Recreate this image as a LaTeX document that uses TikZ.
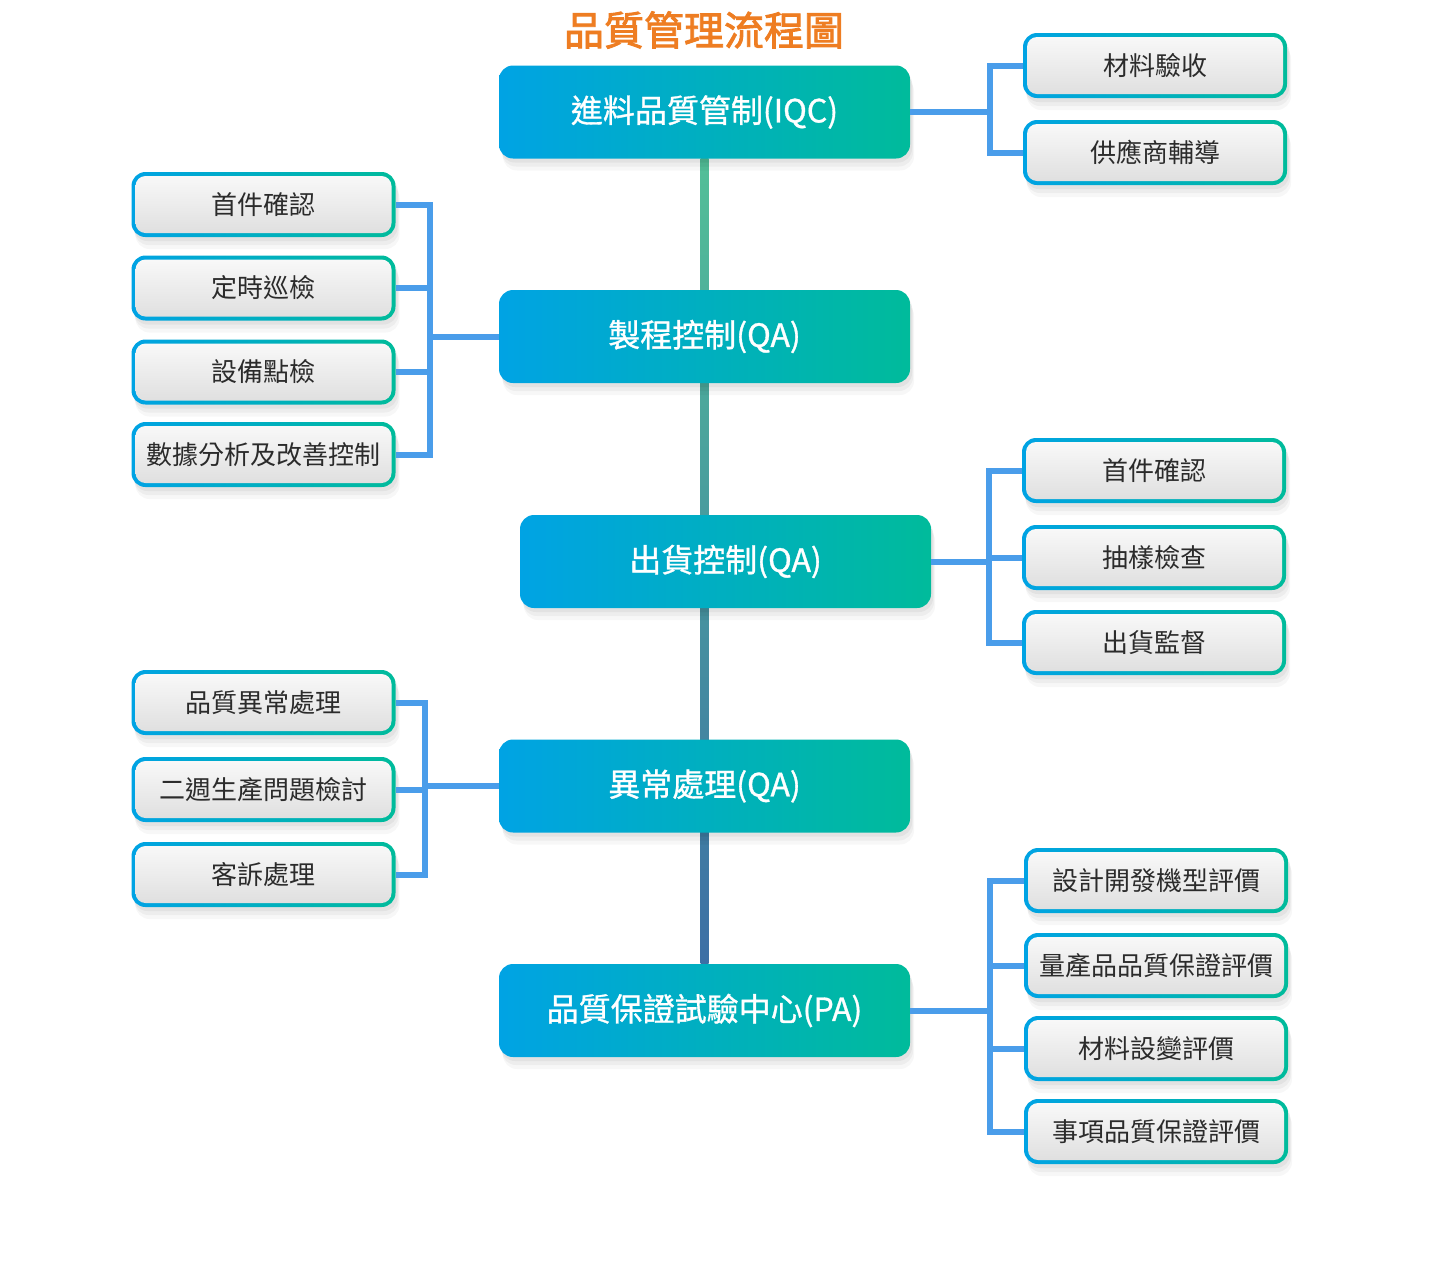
\documentclass[tikz,border=0pt]{standalone}
\usepackage{fontspec}
\setmainfont{Noto Sans CJK TC}
\newfontfamily\titlefont[FakeBold=2.2]{Noto Sans CJK TC}
\newfontfamily\mainfont[FakeBold=1.0]{Noto Sans CJK TC}
\usetikzlibrary{shadows,backgrounds,calc}
\definecolor{cblue}{HTML}{00A3E4}
\definecolor{cteal}{HTML}{00BB9B}
\definecolor{lineblue}{HTML}{4A9DEA}
\definecolor{txtc}{HTML}{2B2B2B}
\definecolor{orangeT}{HTML}{EE7D22}
\definecolor{spineTop}{HTML}{52BF98}
\definecolor{spineBot}{HTML}{3D6FA5}
\tikzset{
  softshadow/.style={
    drop shadow={shadow xshift=1pt,shadow yshift=-2pt,opacity=0.05,fill=black},
    drop shadow={shadow xshift=1.5pt,shadow yshift=-4pt,opacity=0.04,fill=black},
    drop shadow={shadow xshift=2pt,shadow yshift=-6pt,opacity=0.03,fill=black}},
  mainbox/.style={rectangle, rounded corners=7pt, minimum width=205.5pt, minimum height=46.5pt,
    left color=cblue, right color=cteal, text=white,
    font=\mainfont\fontsize{16pt}{18pt}\selectfont, inner sep=0pt, softshadow},
  subbox/.style={rectangle, rounded corners=7pt, minimum width=132pt, minimum height=32.5pt,
    left color=cblue, right color=cteal, text=txtc,
    font=\fontsize{13pt}{15pt}\selectfont, inner sep=0pt, softshadow,
    path picture={\shade[top color=white!98!black, bottom color=white!87!black, rounded corners=5pt]
      ($(path picture bounding box.south west)+(2pt,2pt)$) rectangle
      ($(path picture bounding box.north east)+(-2pt,-2pt)$);}},
  br/.style={draw=lineblue, line width=3pt},
}
\begin{document}
\begin{tikzpicture}[x=0.5pt,y=-0.5pt]
\useasboundingbox (0,0) rectangle (1440,1286);

% title
\node[text=orangeT, font=\titlefont\fontsize{20pt}{24pt}\selectfont] (title) at (704,30) {品質管理流程圖};

% main boxes
\node[mainbox] (iqc)  at (704.5,112)   {進料品質管制(IQC)};
\node[mainbox] (proc) at (704.5,336.5) {製程控制(QA)};
\node[mainbox] (ship) at (725.5,561.5) {出貨控制(QA)};
\node[mainbox] (abn)  at (704.5,786)   {異常處理(QA)};
\node[mainbox] (pa)   at (704.5,1010.5){品質保證試驗中心(PA)};

% spine (behind)
\begin{scope}[on background layer]
  \shade[top color=spineTop, bottom color=spineBot]
    ($(iqc.south)+(-4,0)$) rectangle ($(pa.north)+(4,0)$);
\end{scope}

% right group 1
\node[subbox] (r1a) at (1155,65.5)  {材料驗收};
\node[subbox] (r1b) at (1155,152.5) {供應商輔導};
% left group 1
\node[subbox] (l1a) at (263.5,204.5) {首件確認};
\node[subbox] (l1b) at (263.5,288)   {定時巡檢};
\node[subbox] (l1c) at (263.5,372)   {設備點檢};
\node[subbox] (l1d) at (263.5,454.5) {數據分析及改善控制};
% right group 2
\node[subbox] (r2a) at (1154,470.5) {首件確認};
\node[subbox] (r2b) at (1154,557.5) {抽樣檢查};
\node[subbox] (r2c) at (1154,642.5) {出貨監督};
% left group 2
\node[subbox] (l2a) at (263.5,702.5) {品質異常處理};
\node[subbox] (l2b) at (263.5,789.5) {二週生產問題檢討};
\node[subbox] (l2c) at (263.5,874.5) {客訴處理};
% right group 3
\node[subbox] (r3a) at (1156,880.5)  {設計開發機型評價};
\node[subbox] (r3b) at (1156,965.5)  {量產品品質保證評價};
\node[subbox] (r3c) at (1156,1048.5) {材料設變評價};
\node[subbox] (r3d) at (1156,1131.5) {事項品質保證評價};

% brackets
\coordinate (bxr1) at (990,0);
\coordinate (bxl1) at (430,0);
\coordinate (bxr2) at (989,0);
\coordinate (bxl2) at (425,0);
\coordinate (bxr3) at (990,0);

\draw[br] (r1a.west) -| (bxr1 |- r1b.west) -- (r1b.west);
\draw[br] (iqc.east) -- (bxr1 |- iqc.east);

\draw[br] (l1a.east) -| (bxl1 |- l1d.east) -- (l1d.east);
\draw[br] (l1b.east) -- (bxl1 |- l1b.east);
\draw[br] (l1c.east) -- (bxl1 |- l1c.east);
\draw[br] (proc.west) -- (bxl1 |- proc.west);

\draw[br] (r2a.west) -| (bxr2 |- r2c.west) -- (r2c.west);
\draw[br] (r2b.west) -- (bxr2 |- r2b.west);
\draw[br] (ship.east) -- (bxr2 |- ship.east);

\draw[br] (l2a.east) -| (bxl2 |- l2c.east) -- (l2c.east);
\draw[br] (l2b.east) -- (bxl2 |- l2b.east);
\draw[br] (abn.west) -- (bxl2 |- abn.west);

\draw[br] (r3a.west) -| (bxr3 |- r3d.west) -- (r3d.west);
\draw[br] (r3b.west) -- (bxr3 |- r3b.west);
\draw[br] (r3c.west) -- (bxr3 |- r3c.west);
\draw[br] (pa.east) -- (bxr3 |- pa.east);
\end{tikzpicture}
\end{document}
